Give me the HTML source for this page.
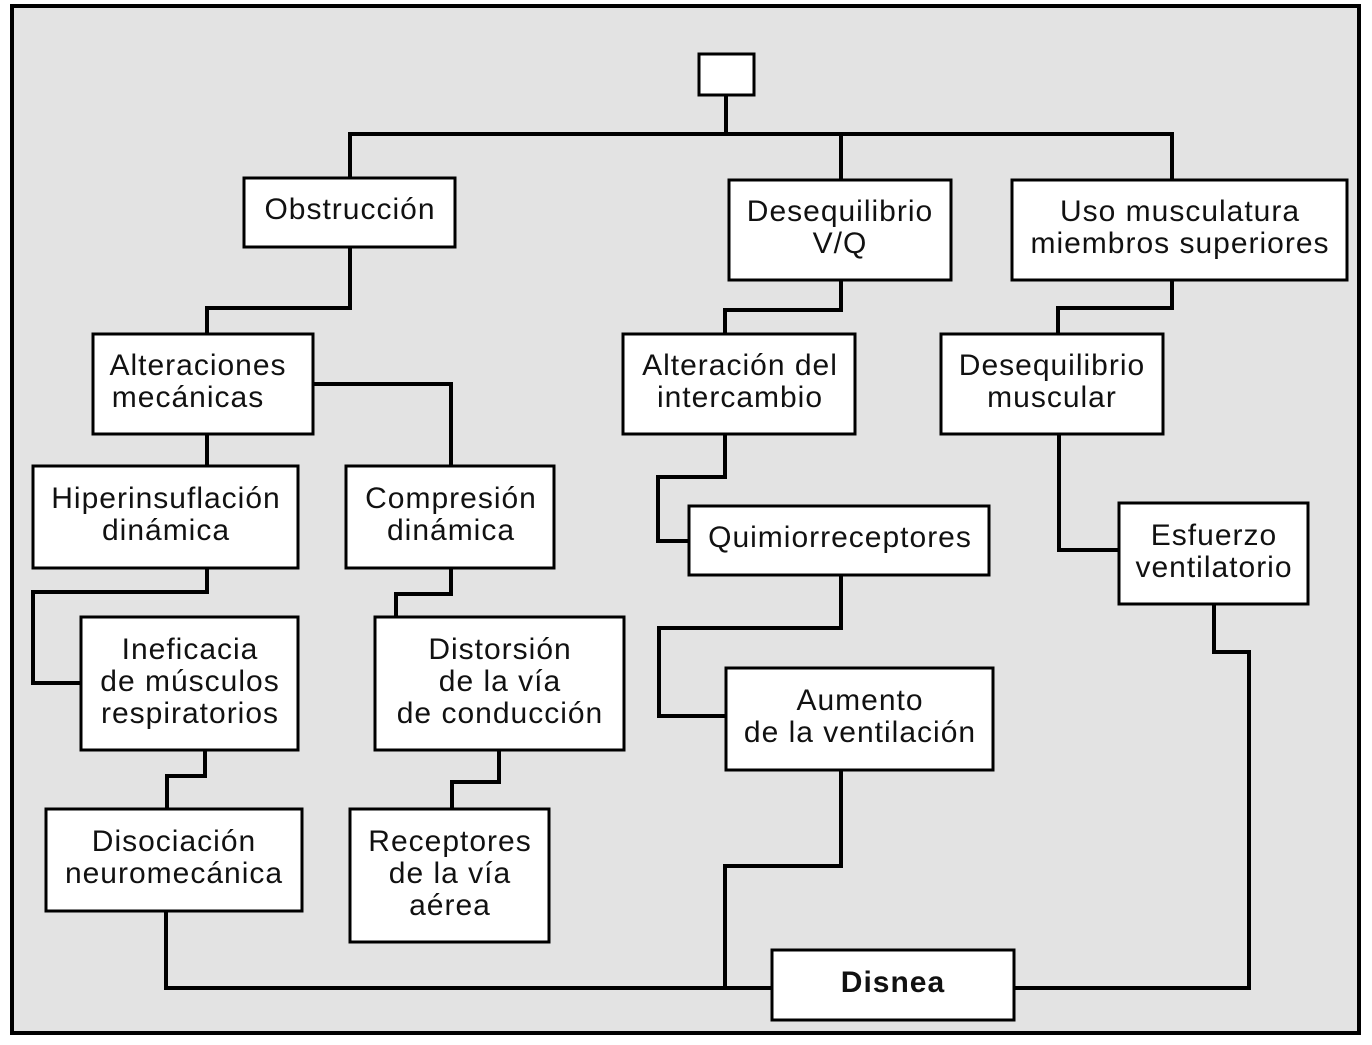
<!DOCTYPE html>
<html><head><meta charset="utf-8"><style>
html,body{margin:0;padding:0;background:#fff;}
svg{display:block;}
text{font-family:"Liberation Sans",Arial,sans-serif;font-size:30px;letter-spacing:1px;fill:#111;text-anchor:middle;}
</style></head><body>
<svg width="1372" height="1045" viewBox="0 0 1372 1045" xmlns="http://www.w3.org/2000/svg">
<rect x="12" y="6" width="1347" height="1027" fill="#e3e3e3" stroke="#000" stroke-width="4"/>
<g fill="none" stroke="#000" stroke-width="4" stroke-linejoin="miter">
<polyline points="726,95 726,134"/>
<polyline points="350,178 350,134 1172,134 1172,180"/>
<polyline points="841,134 841,180"/>
<polyline points="350,247 350,308 207,308 207,334"/>
<polyline points="841,280 841,310 725,310 725,334"/>
<polyline points="1172,280 1172,308 1058,308 1058,334"/>
<polyline points="207,434 207,466"/>
<polyline points="313,384 451,384 451,466"/>
<polyline points="207,568 207,592 33,592 33,683 81,683"/>
<polyline points="451,568 451,594 396,594 396,617"/>
<polyline points="205,750 205,776 167,776 167,809"/>
<polyline points="499,750 499,782 452,782 452,809"/>
<polyline points="166,911 166,988 772,988"/>
<polyline points="841,770 841,866 725,866 725,988"/>
<polyline points="725,434 725,477 658,477 658,541 689,541"/>
<polyline points="841,575 841,628 659,628 659,716 726,716"/>
<polyline points="1059,434 1059,550 1119,550"/>
<polyline points="1214,604 1214,652 1249,652 1249,988 1014,988"/>
</g>
<g fill="#fff" stroke="#000" stroke-width="3">
<rect x="699" y="54" width="55" height="41"/>
<rect x="244" y="178" width="211" height="69"/>
<rect x="729" y="180" width="222" height="100"/>
<rect x="1012" y="180" width="335" height="100"/>
<rect x="93" y="334" width="220" height="100"/>
<rect x="623" y="334" width="232" height="100"/>
<rect x="941" y="334" width="222" height="100"/>
<rect x="33" y="466" width="265" height="102"/>
<rect x="346" y="466" width="208" height="102"/>
<rect x="689" y="506" width="300" height="69"/>
<rect x="1119" y="503" width="189" height="101"/>
<rect x="81" y="617" width="217" height="133"/>
<rect x="375" y="617" width="249" height="133"/>
<rect x="726" y="668" width="267" height="102"/>
<rect x="46" y="809" width="256" height="102"/>
<rect x="350" y="809" width="199" height="133"/>
<rect x="772" y="950" width="242" height="70"/>
</g>
<text x="350" y="219">Obstrucción</text>
<text x="840" y="221">Desequilibrio</text><text x="840" y="253">V/Q</text>
<text x="1180" y="221">Uso musculatura</text><text x="1180" y="253">miembros superiores</text>
<text x="198" y="375">Alteraciones</text><text x="188" y="407">mecánicas</text>
<text x="740" y="375">Alteración del</text><text x="740" y="407">intercambio</text>
<text x="1052" y="375">Desequilibrio</text><text x="1052" y="407">muscular</text>
<text x="166" y="508">Hiperinsuflación</text><text x="166" y="540">dinámica</text>
<text x="451" y="508">Compresión</text><text x="451" y="540">dinámica</text>
<text x="840" y="547">Quimiorreceptores</text>
<text x="1214" y="545">Esfuerzo</text><text x="1214" y="577">ventilatorio</text>
<text x="190" y="659">Ineficacia</text><text x="190" y="691">de músculos</text><text x="190" y="723">respiratorios</text>
<text x="500" y="659">Distorsión</text><text x="500" y="691">de la vía</text><text x="500" y="723">de conducción</text>
<text x="860" y="710">Aumento</text><text x="860" y="742">de la ventilación</text>
<text x="174" y="851">Disociación</text><text x="174" y="883">neuromecánica</text>
<text x="450" y="851">Receptores</text><text x="450" y="883">de la vía</text><text x="450" y="915">aérea</text>
<text x="893" y="992" style="font-weight:bold">Disnea</text>
</svg>
</body></html>
